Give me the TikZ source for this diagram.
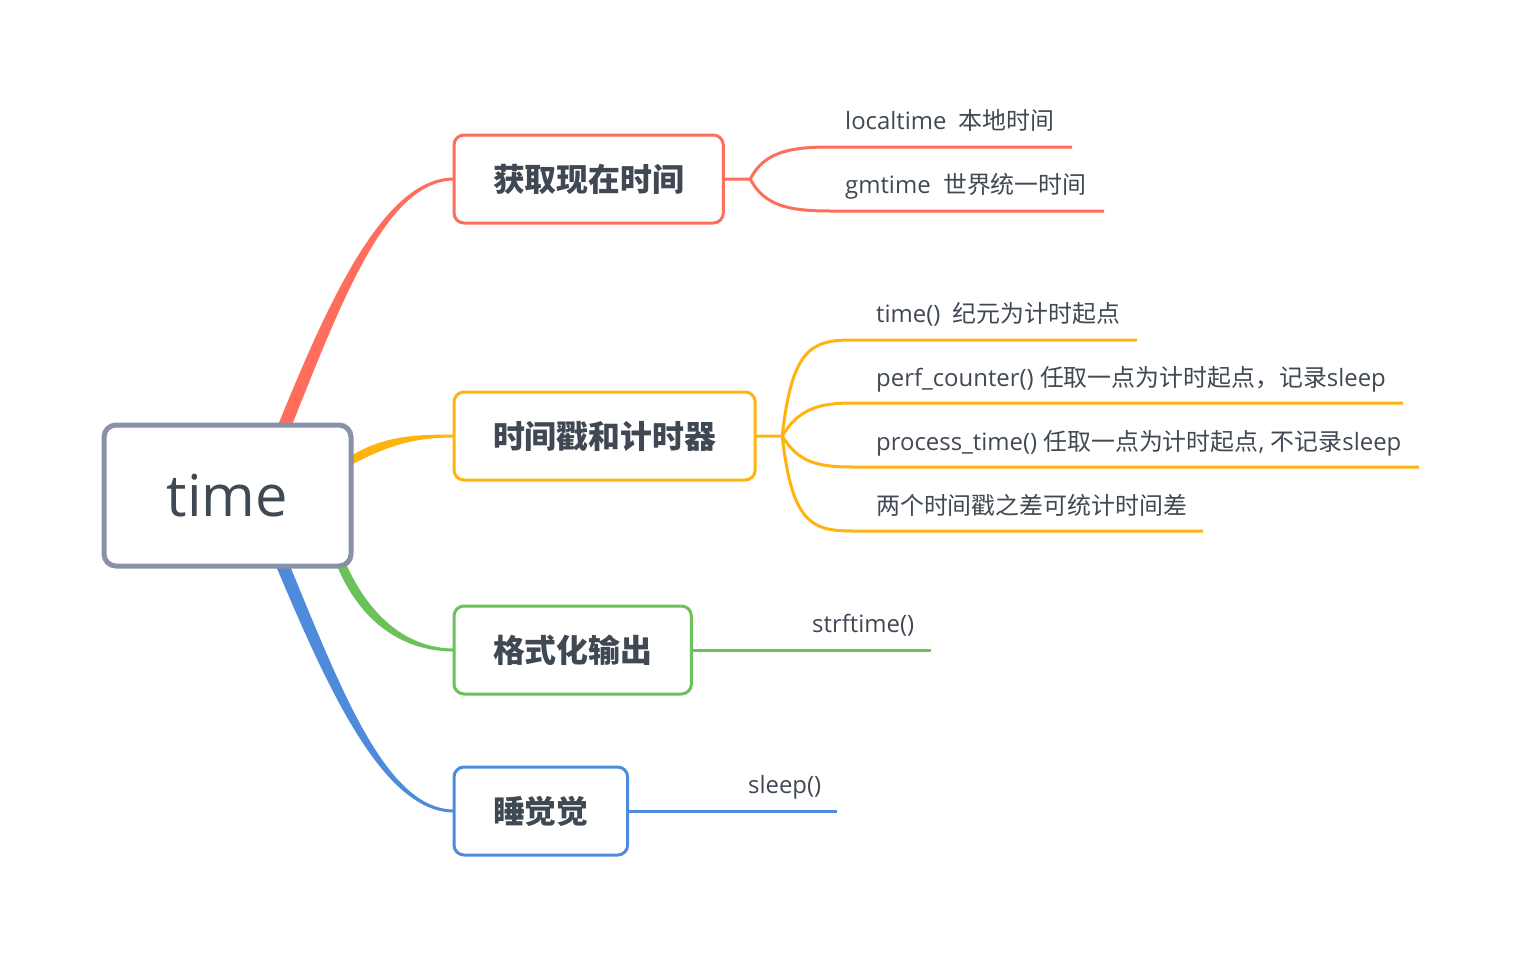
\documentclass[tikz,border=0pt]{standalone}
\usepackage{fontspec}
\setmainfont{Open Sans}
\newfontfamily\cjk{Noto Sans CJK SC}
\usepackage{tikz}
\usetikzlibrary{backgrounds}

\definecolor{rootgray}{HTML}{8891A5}
\definecolor{textgray}{HTML}{3F4853}
\definecolor{mred}{HTML}{FF6E5C}
\definecolor{morange}{HTML}{FFB30F}
\definecolor{mgreen}{HTML}{6BC25A}
\definecolor{mblue}{HTML}{4E8BDB}

\begin{document}
\begin{tikzpicture}[x=1bp,y=-1bp,
	topic/.style={draw,line width=3bp,rounded corners=10bp,fill=white,anchor=west,outer sep=0pt,
		minimum height=88bp,inner xsep=39bp,text=textgray,font=\cjk\bfseries\fontsize{32}{38}\selectfont},
	leaf/.style={anchor=base west,inner sep=0pt,text=textgray,font=\fontsize{24}{29}\selectfont},
	twig/.style={line width=3bp}]
	
	\useasboundingbox (0,0) rectangle (1520,956);
	
	\node[draw=rootgray,line width=5bp,rounded corners=12bp,fill=white,outer sep=0pt,
		minimum width=247bp,minimum height=141bp,text=textgray,font=\fontsize{58}{70}\selectfont] (root) at (227.5,495.5) {time};
	
	\node[topic,draw=mred] (t1) at (454,179) {获取现在时间};
	\node[topic,draw=morange] (t2) at (454,436) {时间戳和计时器};
	\node[topic,draw=mgreen] (t3) at (454,650) {格式化输出};
	\node[topic,draw=mblue] (t4) at (454,811) {睡觉觉};
	
	\coordinate (rs) at ([xshift=-66bp]root.north east);
	\coordinate (os) at ([yshift=35bp]root.east);
	\coordinate (gs) at ([xshift=-9bp]root.south east);
	\coordinate (bs) at ([xshift=-68bp]root.south east);
	
	\begin{pgfonlayer}{background}
		\fill[mred] ([xshift=-7bp]rs) .. controls (329,300) and (384,177.5) .. ([yshift=1.5bp]t1.west)
			-- ([yshift=-1.5bp]t1.west) .. controls (387,180.5) and (342,300) .. ([xshift=7bp]rs) -- cycle;
		\fill[morange] ([yshift=4.5bp]os) .. controls (383,436) and (415,434.5) .. ([yshift=1.5bp]t2.west)
			-- ([yshift=-1.5bp]t2.west) .. controls (415,437.5) and (389,445) .. ([yshift=-4.5bp]os) -- cycle;
		\fill[mgreen] ([xshift=-5bp]gs) .. controls (362,625) and (405,651.5) .. ([yshift=-1.5bp]t3.west)
			-- ([yshift=1.5bp]t3.west) .. controls (410,648.5) and (372,620) .. ([xshift=5bp]gs) -- cycle;
		\fill[mblue] ([xshift=-7bp]bs) .. controls (329,692) and (384,812.5) .. ([yshift=-1.5bp]t4.west)
			-- ([yshift=1.5bp]t4.west) .. controls (387,809.5) and (342,692) .. ([xshift=7bp]bs) -- cycle;
	\end{pgfonlayer}
	
	% 获取现在时间
	\coordinate (j1) at ([xshift=27bp]t1.east);
	\coordinate (e11) at (1072,147);
	\coordinate (e12) at (1104,211);
	\draw[twig,mred] (t1.east) -- (j1) .. controls (764,152) and (790,147) .. (830,147) -- (e11);
	\draw[twig,mred] (j1) .. controls (764,206) and (790,211) .. (830,211) -- (e12);
	\node[leaf] (l11) at (845,129) {localtime\ \ {\cjk 本地时间}};
	\node[leaf] (l12) at (845,193) {gmtime\ \ {\cjk 世界统一时间}};
	
	% 时间戳和计时器
	\coordinate (j2) at ([xshift=27bp]t2.east);
	\coordinate (e21) at (1137,340);
	\coordinate (e22) at (1403,403);
	\coordinate (e23) at (1419,467);
	\coordinate (e24) at (1203,531);
	\draw[twig,morange] (t2.east) -- (j2) .. controls (792,350) and (810,340) .. (852,340) -- (e21);
	\draw[twig,morange] (j2) .. controls (798,410) and (817,403) .. (852,403) -- (e22);
	\draw[twig,morange] (j2) .. controls (798,462) and (817,467) .. (852,467) -- (e23);
	\draw[twig,morange] (j2) .. controls (792,521) and (810,531) .. (852,531) -- (e24);
	\node[leaf] (l21) at (876,322) {time()\ \ {\cjk 纪元为计时起点}};
	\node[leaf] (l22) at (876,386) {perf\_counter() {\cjk 任取一点为计时起点，记录}sleep};
	\node[leaf] (l23) at (876,450) {process\_time() {\cjk 任取一点为计时起点}, {\cjk 不记录}sleep};
	\node[leaf] (l24) at (876,514) {\cjk 两个时间戳之差可统计时间差};
	
	% 格式化输出
	\coordinate (e31) at (931,650);
	\draw[twig,mgreen] (t3.east) -- (e31);
	\node[leaf] (l31) at (812,632) {strftime()};
	
	% 睡觉觉
	\coordinate (e41) at (837,811);
	\draw[twig,mblue] (t4.east) -- (e41);
	\node[leaf] (l41) at (748,793) {sleep()};
	
\end{tikzpicture}
\end{document}
